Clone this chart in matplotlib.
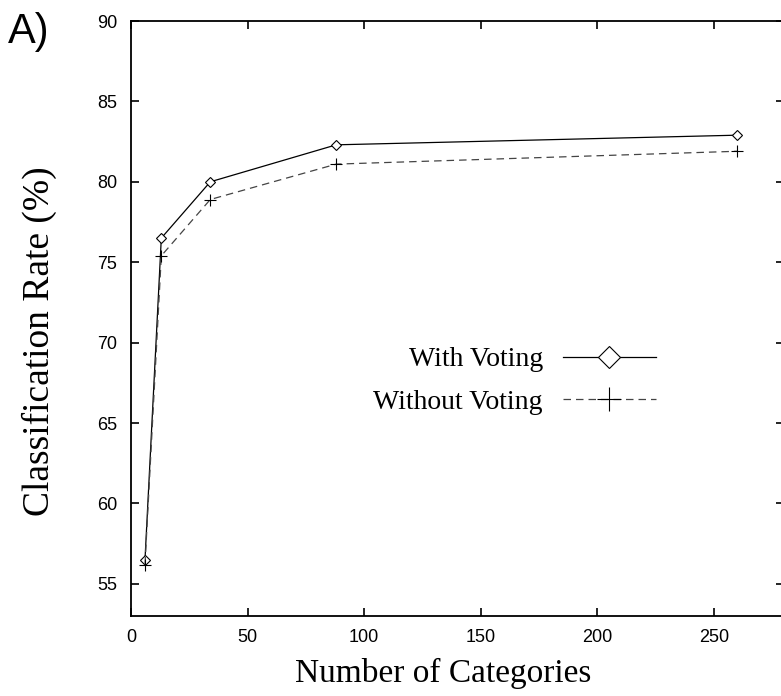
import matplotlib
matplotlib.use("Agg")
import matplotlib.pyplot as plt

# number of categories vs. classification rate
n_categories = [6, 13, 34, 88, 260]
with_voting = [56.5, 76.5, 80.0, 82.3, 82.9]
without_voting = [56.2, 75.4, 78.9, 81.1, 81.9]

xticks = [0, 50, 100, 150, 200, 250]
yticks = [55, 60, 65, 70, 75, 80, 85, 90]

W, H = 781, 696
fig = plt.figure(figsize=(W / 100, H / 100), dpi=100)
ax = fig.add_axes([131 / W, 1 - 616 / H, (784 - 131) / W, (616 - 21) / H])

ax.plot(n_categories, with_voting, color="black", lw=0.9,
        marker="D", ms=5.5, mfc="white", mec="black", mew=0.8,
        label="With Voting")
ax.plot(n_categories, without_voting, color="#444444", lw=0.9,
        ls=(0, (6, 4)), marker="+", ms=8.5, mec="black", mew=0.8,
        label="Without Voting")

ax.set_xlim(0, 280)
ax.set_ylim(53, 90)
ax.set_xticks(xticks)
ax.set_yticks(yticks)

tick_font = {"family": "Liberation Sans", "size": 13}
ax.set_xticklabels([str(v) for v in xticks], fontdict=tick_font)
ax.set_yticklabels([str(v) for v in yticks], fontdict=tick_font)
ax.tick_params(direction="in", length=6, width=1.2, top=True, right=True,
               pad=9)
ax.tick_params(axis="y", pad=10)
for s in ax.spines.values():
    s.set_linewidth(1.3)

leg = ax.legend(loc="center right", bbox_to_anchor=(656 / W, 1 - 381 / H),
                bbox_transform=fig.transFigure, frameon=False,
                markerfirst=False, handlelength=3.35, handletextpad=0.72,
                labelspacing=0.62, borderpad=0, borderaxespad=0,
                markerscale=2.0,
                prop={"family": "Liberation Serif", "size": 20})

fig.text(39 / W, 1 - 341 / H, "Classification Rate (%)", rotation=90,
         ha="center", va="center", family="Liberation Serif", fontsize=27)
fig.text(443 / W, 1 - 682 / H, "Number of Categories", ha="center",
         va="baseline", family="Liberation Serif", fontsize=24)
fig.text(8 / W, 1 - 43 / H, "A)", ha="left", va="baseline",
         family="Liberation Sans", fontsize=30)

fig.savefig("out.png", dpi=100)
